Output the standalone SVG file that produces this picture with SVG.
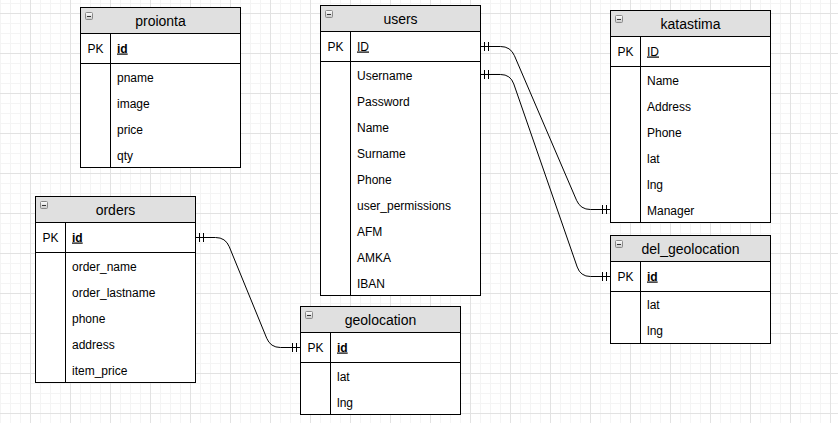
<svg xmlns="http://www.w3.org/2000/svg" xmlns:xlink="http://www.w3.org/1999/xlink" width="838" height="423" viewBox="0 0 838 423">
<style>
.frame{fill:#ffffff;stroke:#000000;stroke-width:1}
.hdr{fill:#e0e0e0;stroke:#000000;stroke-width:1}
.ln{stroke:#000000;stroke-width:1;fill:none}
.title{font-family:"Liberation Sans",Arial,sans-serif;font-size:14px;fill:#000;text-anchor:middle}
.cell{font-family:"Liberation Sans",Arial,sans-serif;font-size:12px;fill:#000}
.pk{text-anchor:middle}
.key{text-decoration:underline}
.bold{font-weight:bold}
.edge{stroke:#000000;stroke-width:1;fill:none;marker-start:url(#mandOne);marker-end:url(#mandOne)}
</style>
<defs>
<pattern id="minor" width="10" height="10" x="0" y="3" patternUnits="userSpaceOnUse">
<path d="M0 0.5H10M0.5 0V10" stroke="#f4f4f4" stroke-width="1" fill="none"/>
</pattern>
<pattern id="major" width="40" height="40" x="30" y="13" patternUnits="userSpaceOnUse">
<path d="M0 0.5H40M0.5 0V40" stroke="#e2e2e2" stroke-width="1" fill="none"/>
</pattern>
<linearGradient id="btn" x1="0" y1="0" x2="0" y2="1">
<stop offset="0" stop-color="#ffffff"/>
<stop offset="1" stop-color="#c8c8c8"/>
</linearGradient>
<g id="collapse">
<rect x="0.5" y="0.5" width="7" height="7" rx="1" fill="url(#btn)" stroke="#8a8a8a" stroke-width="1"/>
<path d="M2 4.5H6" stroke="#333" stroke-width="1"/>
</g>
<marker id="mandOne" viewBox="0 0 12 12" refX="12" refY="6" markerWidth="12" markerHeight="12" markerUnits="userSpaceOnUse" orient="auto-start-reverse">
<path d="M4 1.5V10.5M8 1.5V10.5" stroke="#000" stroke-width="1" fill="none"/>
</marker>
</defs>

<rect x="0" y="0" width="838" height="423" fill="#ffffff"/>
<rect x="0" y="0" width="838" height="423" fill="url(#minor)"/>
<rect x="0" y="0" width="838" height="423" fill="url(#major)"/>

<g id="connectors">
<path class="edge" d="M480.5 46.5H500.5Q510.5 46.5 514.45 55.69L576.55 200.31Q580.5 209.5 590.5 209.5H610.5"/>
<path class="edge" d="M480.5 74.5H500.5Q510.5 74.5 513.77 83.95L577.23 267.05Q580.5 276.5 590.5 276.5H610.5"/>
<path class="edge" d="M195.5 237.5H215.5Q225.5 237.5 229.29 246.76L266.71 338.24Q270.5 347.5 280.5 347.5H300.5"/>
</g>

<g id="proionta">
<rect class="frame" x="80.5" y="7.5" width="160" height="160"/>
<rect class="hdr" x="80.5" y="7.5" width="160" height="26"/>
<use xlink:href="#collapse" x="85" y="12"/>
<path class="ln" d="M80.5 63.5H240.5M110.5 33.5V167.5"/>
<text class="title" x="160.5" y="25.5">proionta</text>
<text class="cell pk" x="95.5" y="52.5">PK</text>
<text class="cell key bold" x="117" y="52.5">id</text>
<text class="cell" x="117" y="82">pname</text>
<text class="cell" x="117" y="108">image</text>
<text class="cell" x="117" y="134">price</text>
<text class="cell" x="117" y="160">qty</text>
</g>

<g id="users">
<rect class="frame" x="320.5" y="5.5" width="160" height="290"/>
<rect class="hdr" x="320.5" y="5.5" width="160" height="26"/>
<use xlink:href="#collapse" x="325" y="10"/>
<path class="ln" d="M320.5 61.5H480.5M350.5 31.5V295.5"/>
<text class="title" x="400.5" y="23.5">users</text>
<text class="cell pk" x="335.5" y="50.5">PK</text>
<text class="cell key" x="357" y="50.5">ID</text>
<text class="cell" x="357" y="80">Username</text>
<text class="cell" x="357" y="106">Password</text>
<text class="cell" x="357" y="132">Name</text>
<text class="cell" x="357" y="158">Surname</text>
<text class="cell" x="357" y="184">Phone</text>
<text class="cell" x="357" y="210">user_permissions</text>
<text class="cell" x="357" y="236">AFM</text>
<text class="cell" x="357" y="262">AMKA</text>
<text class="cell" x="357" y="288">IBAN</text>
</g>

<g id="katastima">
<rect class="frame" x="610.5" y="10.5" width="160" height="212"/>
<rect class="hdr" x="610.5" y="10.5" width="160" height="26"/>
<use xlink:href="#collapse" x="615" y="15"/>
<path class="ln" d="M610.5 66.5H770.5M640.5 36.5V222.5"/>
<text class="title" x="690.5" y="28.5">katastima</text>
<text class="cell pk" x="625.5" y="55.5">PK</text>
<text class="cell key" x="647" y="55.5">ID</text>
<text class="cell" x="647" y="85">Name</text>
<text class="cell" x="647" y="111">Address</text>
<text class="cell" x="647" y="137">Phone</text>
<text class="cell" x="647" y="163">lat</text>
<text class="cell" x="647" y="189">lng</text>
<text class="cell" x="647" y="215">Manager</text>
</g>

<g id="del_geolocation">
<rect class="frame" x="610.5" y="235.5" width="160" height="108"/>
<rect class="hdr" x="610.5" y="235.5" width="160" height="26"/>
<use xlink:href="#collapse" x="615" y="240"/>
<path class="ln" d="M610.5 291.5H770.5M640.5 261.5V343.5"/>
<text class="title" x="690.5" y="253.5">del_geolocation</text>
<text class="cell pk" x="625.5" y="280.5">PK</text>
<text class="cell key bold" x="647" y="280.5">id</text>
<text class="cell" x="647" y="309">lat</text>
<text class="cell" x="647" y="335">lng</text>
</g>

<g id="orders">
<rect class="frame" x="35.5" y="196.5" width="160" height="186"/>
<rect class="hdr" x="35.5" y="196.5" width="160" height="26"/>
<use xlink:href="#collapse" x="40" y="201"/>
<path class="ln" d="M35.5 252.5H195.5M65.5 222.5V382.5"/>
<text class="title" x="115.5" y="214.5">orders</text>
<text class="cell pk" x="50.5" y="241.5">PK</text>
<text class="cell key bold" x="72" y="241.5">id</text>
<text class="cell" x="72" y="271">order_name</text>
<text class="cell" x="72" y="297">order_lastname</text>
<text class="cell" x="72" y="323">phone</text>
<text class="cell" x="72" y="349">address</text>
<text class="cell" x="72" y="375">item_price</text>
</g>

<g id="geolocation">
<rect class="frame" x="300.5" y="306.5" width="160" height="108"/>
<rect class="hdr" x="300.5" y="306.5" width="160" height="26"/>
<use xlink:href="#collapse" x="305" y="311"/>
<path class="ln" d="M300.5 362.5H460.5M330.5 332.5V414.5"/>
<text class="title" x="380.5" y="324.5">geolocation</text>
<text class="cell pk" x="315.5" y="351.5">PK</text>
<text class="cell key bold" x="337" y="351.5">id</text>
<text class="cell" x="337" y="381">lat</text>
<text class="cell" x="337" y="407">lng</text>
</g>
</svg>
